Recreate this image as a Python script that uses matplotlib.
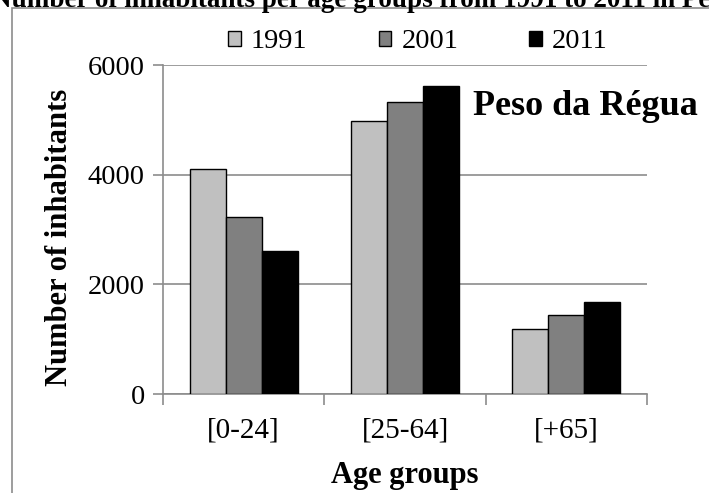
import matplotlib
matplotlib.use("Agg")
from matplotlib import pyplot as plt
from matplotlib.patches import Rectangle
import numpy as np

plt.rcParams['font.family'] = ['Liberation Serif', 'DejaVu Serif']

# data
groups = ['[0-24]', '[25-64]', '[+65]']
years = ['1991', '2001', '2011']
v_1991 = [4100, 4970, 1180]
v_2001 = [3220, 5330, 1440]
v_2011 = [2600, 5620, 1680]
colors = ['#c0c0c0', '#808080', '#000000']

W, H = 709, 493
fig = plt.figure(figsize=(W / 100, H / 100), dpi=100)
ax = fig.add_axes([163 / W, 1 - 394 / H, (647 - 163) / W, (394 - 65) / H])

x = np.arange(len(groups))
bw = 0.223
for i, (vals, c, lab) in enumerate(zip([v_1991, v_2001, v_2011], colors, years)):
    ax.bar(x + (i - 1) * bw, vals, bw, color=c, edgecolor='black', linewidth=1,
           label=lab, zorder=3)

ax.set_xlim(-0.5, 2.5)
ax.set_ylim(0, 6000)
ax.set_yticks([0, 2000, 4000, 6000])
ax.yaxis.grid(True, color='#8c8c8c', linewidth=1.2, zorder=0)

# category ticks between groups, labels centered
ax.set_xticks([-0.5, 0.5, 1.5, 2.5])
ax.set_xticklabels([])
ax.set_xticks(x, minor=True)
ax.set_xticklabels(groups, minor=True, fontsize=21)
ax.tick_params(axis='x', which='minor', length=0, pad=17)
ax.tick_params(axis='x', which='major', length=8, color='#8c8c8c', width=1.2)
ax.tick_params(axis='y', length=7, color='#8c8c8c', width=1.2, labelsize=20.5, pad=6)

for s in ['top', 'right']:
    ax.spines[s].set_visible(False)
for s in ['left', 'bottom']:
    ax.spines[s].set_color('#8c8c8c')
    ax.spines[s].set_linewidth(1.2)

ax.set_xlabel('Age groups', fontsize=22, fontweight='bold')
ax.xaxis.set_label_coords(0.5, -0.205)
ax.set_ylabel('Number of inhabitants', fontsize=22, fontweight='bold')
ax.yaxis.set_label_coords(-0.184, 0.477)

ax.text(473 / W, 1 - 115 / H, 'Peso da Régua', transform=fig.transFigure,
        fontsize=26, fontweight='bold', ha='left', va='baseline')

fig.legend(loc='center', bbox_to_anchor=(418 / W, 1 - 42 / H), ncol=3,
           frameon=False, fontsize=20.5, handlelength=0.45, handleheight=0.45,
           handletextpad=0.35, columnspacing=2.5)

# title partly cut off at the top
fig.text(-8 / W, 1 - 7 / H,
         'Number of inhabitants per age groups from 1991 to 2011 in Peso da Régua',
         fontsize=19.5, fontweight='bold', ha='left', va='baseline')

# outer frame
fig.patches.append(Rectangle((12 / W, -0.1), 1.2, 1 - 8 / H + 0.1,
                             transform=fig.transFigure, fill=False,
                             edgecolor='#8c8c8c', linewidth=1.2))

plt.savefig('out.png', dpi=100)
